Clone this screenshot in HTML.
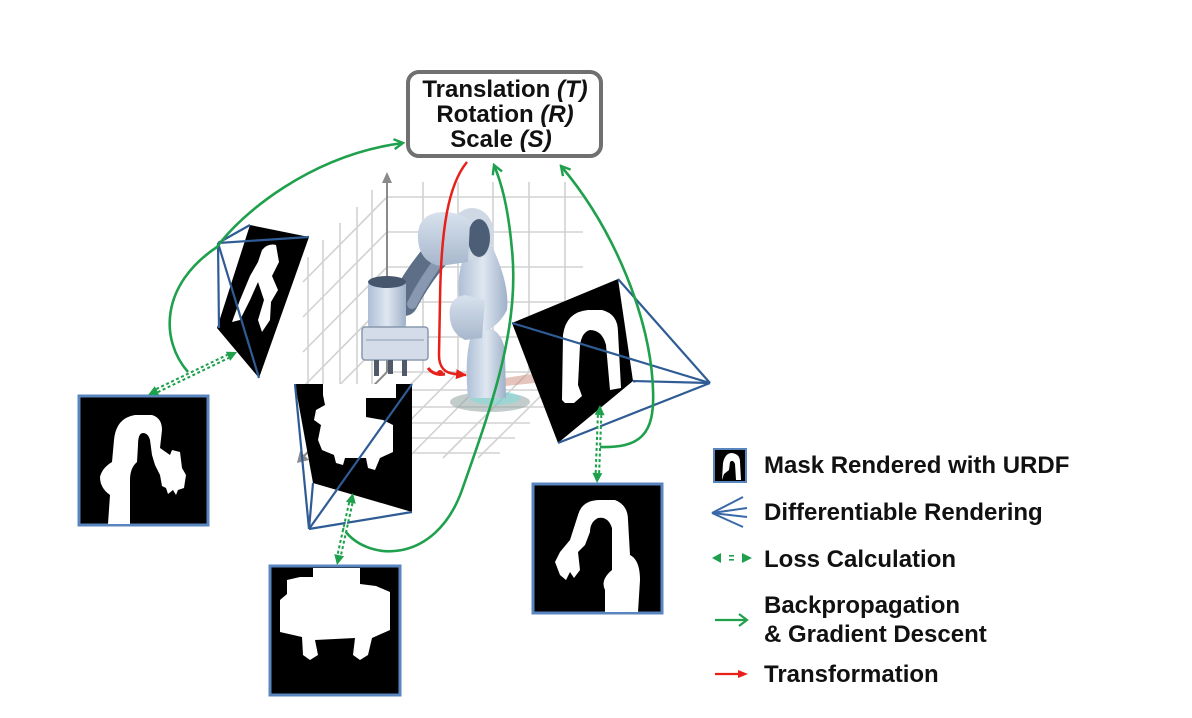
<!DOCTYPE html>
<html>
<head>
<meta charset="utf-8">
<style>
  html,body{margin:0;padding:0;background:#fff;}
  svg{display:block;}
  text{font-family:"Liberation Sans",Arial,sans-serif;font-weight:bold;fill:#111;}
</style>
</head>
<body>
<svg width="1192" height="718" viewBox="0 0 1192 718" xmlns="http://www.w3.org/2000/svg">
  <defs>
    <marker id="gh" viewBox="0 0 12 12" refX="10" refY="6" markerWidth="12" markerHeight="12" markerUnits="userSpaceOnUse" orient="auto">
      <path d="M1,1 L10,6 L1,11" fill="none" stroke="#1ea04c" stroke-width="2.4"/>
    </marker>
    <marker id="rh" viewBox="0 0 12 12" refX="10" refY="6" markerWidth="12" markerHeight="12" markerUnits="userSpaceOnUse" orient="auto">
      <path d="M0,1 L11,6 L0,11 Z" fill="#e8201a"/>
    </marker>
    <linearGradient id="rb" x1="0" y1="0" x2="1" y2="0">
      <stop offset="0" stop-color="#aebfd6"/>
      <stop offset="0.5" stop-color="#dfe7f1"/>
      <stop offset="1" stop-color="#9fb1c8"/>
    </linearGradient>
    <linearGradient id="rb2" x1="0" y1="0" x2="0" y2="1">
      <stop offset="0" stop-color="#d8e2ee"/>
      <stop offset="1" stop-color="#a7b7cc"/>
    </linearGradient>
  </defs>

  <!-- ===== GRID ===== -->
  <g stroke="#d2d2d2" stroke-width="1.6" fill="none">
    <line x1="423" y1="182" x2="423" y2="372"/>
    <line x1="458" y1="182" x2="458" y2="372"/>
    <line x1="493" y1="182" x2="493" y2="372"/>
    <line x1="529" y1="182" x2="529" y2="372"/>
    <line x1="565" y1="182" x2="565" y2="372"/>
    <line x1="387" y1="197" x2="583" y2="197"/>
    <line x1="387" y1="232" x2="583" y2="232"/>
    <line x1="387" y1="267" x2="583" y2="267"/>
    <line x1="387" y1="302" x2="583" y2="302"/>
    <line x1="387" y1="337" x2="583" y2="337"/>
    <line x1="372" y1="190" x2="372" y2="387"/>
    <line x1="357" y1="207" x2="357" y2="402"/>
    <line x1="340" y1="223" x2="340" y2="419"/>
    <line x1="323" y1="240" x2="323" y2="436"/>
    <line x1="308" y1="257" x2="308" y2="451"/>
    <line x1="387" y1="197" x2="303" y2="282"/>
    <line x1="387" y1="232" x2="303" y2="317"/>
    <line x1="387" y1="267" x2="303" y2="352"/>
    <line x1="387" y1="302" x2="303" y2="387"/>
    <line x1="387" y1="337" x2="303" y2="422"/>
    <line x1="387" y1="372" x2="575" y2="372"/>
    <line x1="369" y1="390" x2="560" y2="390"/>
    <line x1="352" y1="407" x2="545" y2="407"/>
    <line x1="336" y1="423" x2="530" y2="423"/>
    <line x1="321" y1="438" x2="515" y2="438"/>
    <line x1="306" y1="453" x2="500" y2="453"/>
    <line x1="423" y1="372" x2="338" y2="458"/>
    <line x1="458" y1="372" x2="373" y2="458"/>
    <line x1="493" y1="372" x2="408" y2="458"/>
    <line x1="529" y1="372" x2="443" y2="458"/>
    <line x1="565" y1="372" x2="478" y2="458"/>
  </g>
  <g stroke="#8a8a8a" stroke-width="2" fill="#8a8a8a">
    <line x1="387" y1="180" x2="387" y2="372"/>
    <path d="M387,172 L382,183 L392,183 Z" stroke="none"/>
    <line x1="387" y1="372" x2="303" y2="457"/>
    <path d="M297,463 L300,451 L309,460 Z" stroke="none"/>
  </g>

  <!-- ===== ROBOT ===== -->
  <g>
    <ellipse cx="490" cy="402" rx="40" ry="10" fill="#8fa3a0" opacity="0.55"/>
    <ellipse cx="495" cy="398" rx="25" ry="7" fill="#6fe0e0" opacity="0.45"/>
    <path d="M505,378 L545,372 L545,382 L505,386 Z" fill="#c98a7a" opacity="0.5"/>
    <!-- lower link -->
    <path d="M468,398 L506,398 L505,350 Q502,333 490,328 L472,333 Q464,355 468,398 Z" fill="url(#rb)"/>
    <!-- upper link -->
    <path d="M460,305 Q455,275 466,252 L492,246 Q510,285 507,310 Q498,328 480,333 Z" fill="url(#rb)"/>
    <!-- knee -->
    <path d="M450,318 Q447,298 465,295 L485,300 L482,338 L465,340 Q451,333 450,318 Z" fill="url(#rb2)"/>
    <!-- shoulder joint -->
    <ellipse cx="472" cy="234" rx="22" ry="26" fill="#cfd9e6"/>
    <ellipse cx="479" cy="238" rx="11" ry="19" fill="#4c5d76"/>
    <!-- forearm tube -->
    <path d="M442,248 Q420,272 404,302" fill="none" stroke="#5d6e87" stroke-width="28" stroke-linecap="round"/>
    <path d="M446,252 Q426,276 412,304" fill="none" stroke="#8798b0" stroke-width="10" stroke-linecap="round"/>
    <!-- upper arm / elbow -->
    <path d="M418,240 Q416,214 442,212 Q462,212 470,222 L468,262 L440,266 Q420,262 418,240 Z" fill="url(#rb2)"/>
    <!-- wrist cylinder -->
    <rect x="368" y="279" width="38" height="51" rx="6" fill="url(#rb)"/>
    <ellipse cx="387" cy="282" rx="19" ry="6" fill="#46566c"/>
    <!-- gripper box -->
    <rect x="362" y="327" width="66" height="33" rx="3" fill="#d3dce8" stroke="#8898ae" stroke-width="1.5"/>
    <line x1="366" y1="340" x2="424" y2="340" stroke="#9aa9bd" stroke-width="1.2"/>
    <rect x="374" y="360" width="5" height="16" fill="#505a68"/>
    <rect x="388" y="360" width="5" height="14" fill="#505a68"/>
    <rect x="402" y="360" width="5" height="16" fill="#505a68"/>
  </g>

  <!-- ===== RED TRANSFORMATION ===== -->
  <path d="M467,162 C448,185 441,230 440,300 L439,355 C439,368 445,373 455,374 L466,375" fill="none" stroke="#e8201a" stroke-width="2.5" marker-end="url(#rh)"/>
  <path d="M428,368 Q434,376 445,374" fill="none" stroke="#e8201a" stroke-width="3"/>
  <circle cx="440" cy="373" r="3" fill="#e8201a"/>

  <!-- ===== TOP BOX ===== -->
  <rect x="408" y="72" width="193" height="84" rx="11" ry="11" fill="#fff" stroke="#707070" stroke-width="4"/>
  <text x="505" y="97" font-size="24" text-anchor="middle">Translation <tspan font-style="italic">(T)</tspan></text>
  <text x="505" y="122" font-size="24" text-anchor="middle">Rotation <tspan font-style="italic">(R)</tspan></text>
  <text x="501" y="147" font-size="24" text-anchor="middle">Scale <tspan font-style="italic">(S)</tspan></text>

  <!-- ===== TOP-LEFT TILTED PANEL ===== -->
  <path d="M250,225 L309,237 L259,378 L217,328 Z" fill="#000"/>
  <path d="M262,250 Q268,243 276,245 L279,262 L272,276 L278,290 L271,302 L270,320 L262,332 L258,320 L264,300 L258,282 L250,300 L240,320 L232,322 L240,300 L250,276 L258,262 Z" fill="#fff"/>
  <g stroke="#2f5c95" stroke-width="2.2" fill="none">
    <line x1="218" y1="243" x2="250" y2="225"/>
    <line x1="218" y1="243" x2="309" y2="237"/>
    <line x1="218" y1="243" x2="259" y2="378"/>
    <line x1="218" y1="243" x2="219" y2="328"/>
  </g>

  <!-- ===== MIDDLE TILTED PANEL ===== -->
  <path d="M295,384 L412,384 L412,512 L313,483 Z" fill="#000"/>
  <path d="M323,384 L396,384 L396,398 L366,398 L366,417 L383,420 L393,425 L393,452 L380,458 L375,470 L368,468 L366,458 L345,458 L343,465 L336,463 L334,455 L322,450 L318,440 L321,425 L314,420 L316,410 L325,405 L323,395 Z" fill="#fff"/>
  <g stroke="#2f5c95" stroke-width="2.2" fill="none">
    <line x1="309" y1="529" x2="295" y2="384"/>
    <line x1="309" y1="529" x2="412" y2="384"/>
    <line x1="309" y1="529" x2="412" y2="512"/>
    <line x1="309" y1="529" x2="313" y2="483"/>
  </g>

  <!-- ===== RIGHT TILTED PANEL ===== -->
  <path d="M512,323 L618,279 L633,381 L558,443 Z" fill="#000"/>
  <path d="M562,400 L563,335 Q566,312 588,310 L602,310 Q618,314 618,332 L621,388 L610,390 L606,345 Q602,330 590,330 Q582,332 580,345 L578,385 L582,396 L574,403 L565,403 Z" fill="#fff"/>
  <g stroke="#2f5c95" stroke-width="2.2" fill="none">
    <line x1="710" y1="383" x2="512" y2="323"/>
    <line x1="710" y1="383" x2="618" y2="279"/>
    <line x1="710" y1="383" x2="633" y2="381"/>
    <line x1="710" y1="383" x2="558" y2="443"/>
  </g>

  <!-- ===== MASK SQUARES ===== -->
  <rect x="79" y="396" width="129" height="129" fill="#000" stroke="#5a86c0" stroke-width="3"/>
  <path d="M108,524 L110,495 Q100,488 100,477 Q102,468 112,462 L114,440 Q116,418 135,415 L152,415 Q162,418 162,430 L160,448 L170,455 L172,450 L180,452 L182,468 L186,475 L184,488 L178,490 L176,495 L173,490 L168,494 L166,488 L162,486 L160,475 L155,465 L152,455 L150,440 Q148,433 143,433 Q138,433 138,445 L137,462 Q130,468 130,480 L130,524 Z" fill="#fff"/>
  <rect x="270" y="566" width="130" height="129" fill="#000" stroke="#5a86c0" stroke-width="3"/>
  <path d="M313,568 L360,568 L360,584 L376,586 L390,592 L390,630 L372,638 L368,655 L360,660 L353,655 L355,638 L315,640 L318,655 L310,660 L303,655 L302,637 L280,632 L280,600 L287,594 L287,580 L300,577 L313,577 Z" fill="#fff"/>
  <rect x="533" y="484" width="129" height="129" fill="#000" stroke="#5a86c0" stroke-width="3"/>
  <path d="M578,515 Q582,500 600,500 L615,500 Q628,505 628,520 L630,555 Q640,560 640,580 L638,612 L605,612 L605,590 Q600,580 612,570 L612,528 Q608,516 598,518 Q590,522 590,532 L585,545 L578,552 L580,570 L574,578 L570,572 L566,580 L560,575 L555,562 L560,552 L570,540 Z" fill="#fff"/>

  <!-- ===== GREEN BACKPROP ARCS ===== -->
  <g fill="none" stroke="#1ea04c" stroke-width="2.6">
    <path d="M188,372 C160,340 160,285 217,247 C240,215 310,155 403,143" marker-end="url(#gh)"/>
    <path d="M343,528 C365,562 435,566 462,490 C490,410 520,330 512,250 C508,205 501,182 494,165" marker-end="url(#gh)"/>
    <path d="M600,447 C640,448 655,435 653,390 C651,320 615,230 561,166" marker-end="url(#gh)"/>
  </g>

  <!-- ===== LOSS DOTTED ARROWS ===== -->
  <g>
    <line x1="157" y1="390.6" x2="228" y2="356.4" stroke="#1ea04c" stroke-width="5.5" stroke-dasharray="3 2.5"/>
    <line x1="157" y1="390.6" x2="228" y2="356.4" stroke="#fff" stroke-width="1.4"/>
    <path d="M237,352 L230.2,360.9 L225.8,351.8 Z M148,395 L159.2,395.2 L154.8,386.1 Z" fill="#1ea04c"/>

    <line x1="350.8" y1="502.8" x2="339.2" y2="555.2" stroke="#1ea04c" stroke-width="5.5" stroke-dasharray="3 2.5"/>
    <line x1="350.8" y1="502.8" x2="339.2" y2="555.2" stroke="#fff" stroke-width="1.4"/>
    <path d="M337,565 L344.1,556.3 L334.3,554.1 Z M353,493 L355.7,503.8 L345.9,501.7 Z" fill="#1ea04c"/>

    <line x1="599.6" y1="415" x2="597.4" y2="473" stroke="#1ea04c" stroke-width="5.5" stroke-dasharray="3 2.5"/>
    <line x1="599.6" y1="415" x2="597.4" y2="473" stroke="#fff" stroke-width="1.4"/>
    <path d="M597,483 L602.4,473.2 L592.4,472.8 Z M600,405 L604.6,415.2 L594.6,414.8 Z" fill="#1ea04c"/>
  </g>

  <!-- ===== LEGEND ===== -->
  <rect x="714" y="449" width="32" height="33" fill="#000" stroke="#5a86c0" stroke-width="2"/>
  <path d="M722,480 L723,463 Q725,453 732,453 Q740,454 740,462 L741,480 L736,480 L735,464 Q733,459 730,462 L729,470 L724,474 Z" fill="#fff"/>
  <text x="764" y="473" font-size="24">Mask Rendered with URDF</text>

  <g stroke="#3a68a8" stroke-width="2" fill="none">
    <line x1="712" y1="513" x2="743" y2="497"/>
    <line x1="712" y1="513" x2="747" y2="508"/>
    <line x1="712" y1="513" x2="747" y2="517"/>
    <line x1="712" y1="513" x2="743" y2="527"/>
  </g>
  <text x="764" y="520" font-size="24">Differentiable Rendering</text>

  <path d="M712,558 L721,553 L721,563 Z M752,558 L742,553 L742,563 Z" fill="#1ea04c"/>
  <rect x="729" y="555" width="5" height="1.6" fill="#1ea04c"/>
  <rect x="729" y="559" width="5" height="1.6" fill="#1ea04c"/>
  <text x="764" y="567" font-size="24">Loss Calculation</text>

  <line x1="715" y1="620" x2="745" y2="620" stroke="#1ea04c" stroke-width="2.2"/>
  <path d="M739,614 L747,620 L739,626" fill="none" stroke="#1ea04c" stroke-width="2.2"/>
  <text x="764" y="613" font-size="24">Backpropagation</text>
  <text x="764" y="642" font-size="24">&amp; Gradient Descent</text>

  <line x1="715" y1="674" x2="740" y2="674" stroke="#e8201a" stroke-width="2.2"/>
  <path d="M738,670 L748,674 L738,678 Z" fill="#e8201a"/>
  <text x="764" y="682" font-size="24">Transformation</text>
</svg>
</body>
</html>
